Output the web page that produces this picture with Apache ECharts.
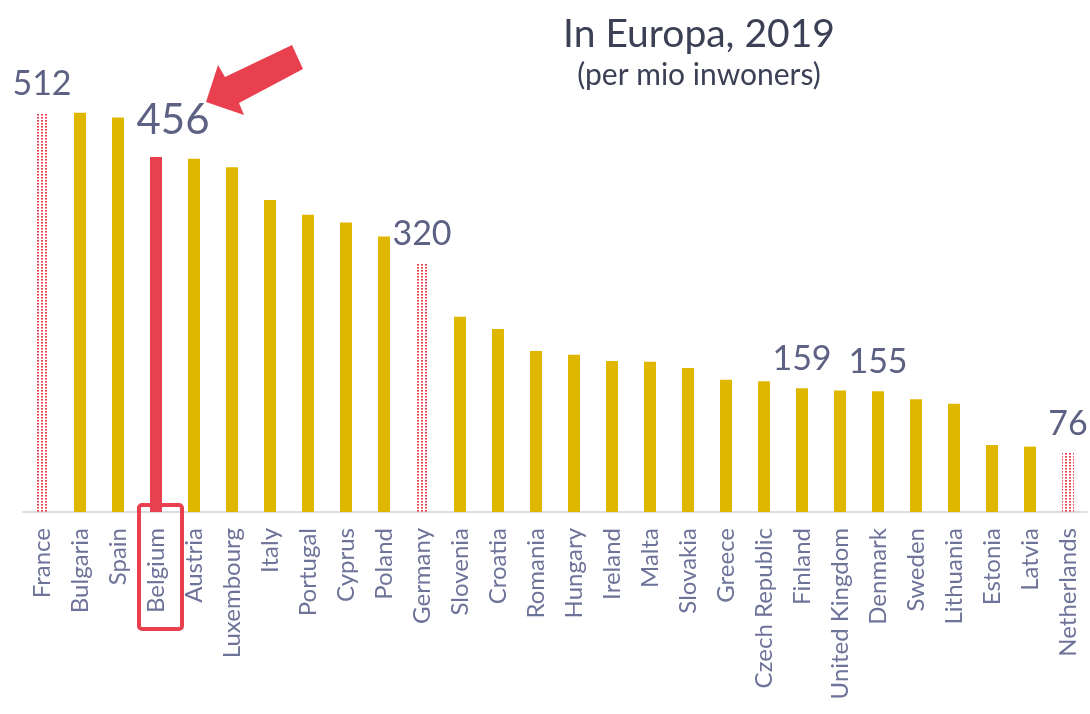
<!DOCTYPE html>
<html>
<head>
<meta charset="utf-8">
<script src="https://cdn.jsdelivr.net/npm/echarts@6/dist/echarts.min.js"></script>
<style>
  html, body { margin: 0; padding: 0; background: #fff; }
  #chart { width: 1090px; height: 714px; }
</style>
</head>
<body>
<div id="chart"></div>
<script>
// data
const countries = ['France', 'Bulgaria', 'Spain', 'Belgium', 'Austria', 'Luxembourg', 'Italy', 'Portugal',
  'Cyprus', 'Poland', 'Germany', 'Slovenia', 'Croatia', 'Romania', 'Hungary', 'Ireland', 'Malta',
  'Slovakia', 'Greece', 'Czech Republic', 'Finland', 'United Kingdom', 'Denmark', 'Sweden',
  'Lithuania', 'Estonia', 'Latvia', 'Netherlands'];
const values = [512, 513, 507, 456, 454, 443, 401, 382, 372, 354, 320, 251, 235, 207, 202, 194, 193,
  185, 170, 168, 159, 156, 155, 145, 139, 86, 84, 76];
const dottedCountries = ['France', 'Germany', 'Netherlands'];
const labeledCountries = ['France', 'Belgium', 'Germany', 'Finland', 'Denmark', 'Netherlands'];
const highlightCountry = 'Belgium';

const YELLOW = '#E0B700';
const RED = '#E8404E';
const LABEL = '#5D6183';
const FONT = 'Lato, "Open Sans", sans-serif';

// dotted fill for the "neighbour" countries
const tile = document.createElement('canvas');
tile.width = 4;
tile.height = 3;
const tctx = tile.getContext('2d');
tctx.fillStyle = RED;
tctx.fillRect(1, 0, 2, 1.6);

const chartDom = document.getElementById('chart');
const myChart = echarts.init(chartDom);

const seriesData = countries.map((name, i) => {
  const item = { value: values[i] };
  if (dottedCountries.includes(name)) {
    item.itemStyle = { color: { image: tile, repeat: 'repeat' } };
  } else if (name === highlightCountry) {
    item.itemStyle = { color: RED };
  }
  if (labeledCountries.includes(name)) {
    item.label = { show: true };
    if (name === highlightCountry) {
      item.label.fontSize = 42;
      item.label.offset = [17, -4];
    }
  }
  return item;
});

const option = {
  animation: false,
  title: {
    text: 'In Europa, 2019',
    subtext: '(per mio inwoners)',
    left: 694,
    textAlign: 'center',
    top: 10,
    itemGap: 6,
    textStyle: { fontFamily: FONT, fontWeight: 'normal', fontSize: 39, color: '#3B4054' },
    subtextStyle: { fontFamily: FONT, fontSize: 30, color: '#3B4054' },
  },
  grid: {
    left: 23,
    right: 3,
    top: 45,
    bottom: 202,
    containLabel: false,
  },
  xAxis: {
    type: 'category',
    data: countries,
    axisLine: { lineStyle: { color: '#DCDDE6', width: 2 } },
    axisTick: { show: false },
    axisLabel: {
      interval: 0,
      rotate: 90,
      margin: 16,
      fontFamily: FONT,
      fontSize: 24,
      color: '#6E7399',
    },
  },
  yAxis: {
    type: 'value',
    min: 0,
    max: 600,
    show: false,
    splitLine: { show: false },
  },
  series: [
    {
      type: 'bar',
      barWidth: 12,
      itemStyle: { color: YELLOW },
      label: {
        show: false,
        position: 'top',
        distance: 12,
        fontFamily: FONT,
        fontSize: 34,
        color: LABEL,
      },
      data: seriesData,
    },
  ],
};

myChart.setOption(option);

// highlight box + arrow pointing at Belgium
const drawMarks = () => {
  const top = myChart.convertToPixel({ seriesIndex: 0 }, [highlightCountry, values[countries.indexOf(highlightCountry)]]);
  const base = myChart.convertToPixel({ seriesIndex: 0 }, [highlightCountry, 0]);
  const arrow = [[50, -55], [62, -92], [69, -80], [136, -112], [147, -88], [83, -54], [88, -42]]
    .map(([dx, dy]) => [top[0] + dx, top[1] + dy]);
  myChart.setOption({
    graphic: [
      {
        type: 'rect',
        shape: { x: base[0] - 17, y: base[1] - 7, width: 43, height: 124, r: 3 },
        style: { fill: 'none', stroke: RED, lineWidth: 4 },
        z: 10,
      },
      {
        type: 'polygon',
        shape: { points: arrow },
        style: { fill: RED },
        z: 10,
      },
    ],
  });
};
drawMarks();

window.addEventListener('resize', () => {
  myChart.resize();
  drawMarks();
});
</script>
</body>
</html>
